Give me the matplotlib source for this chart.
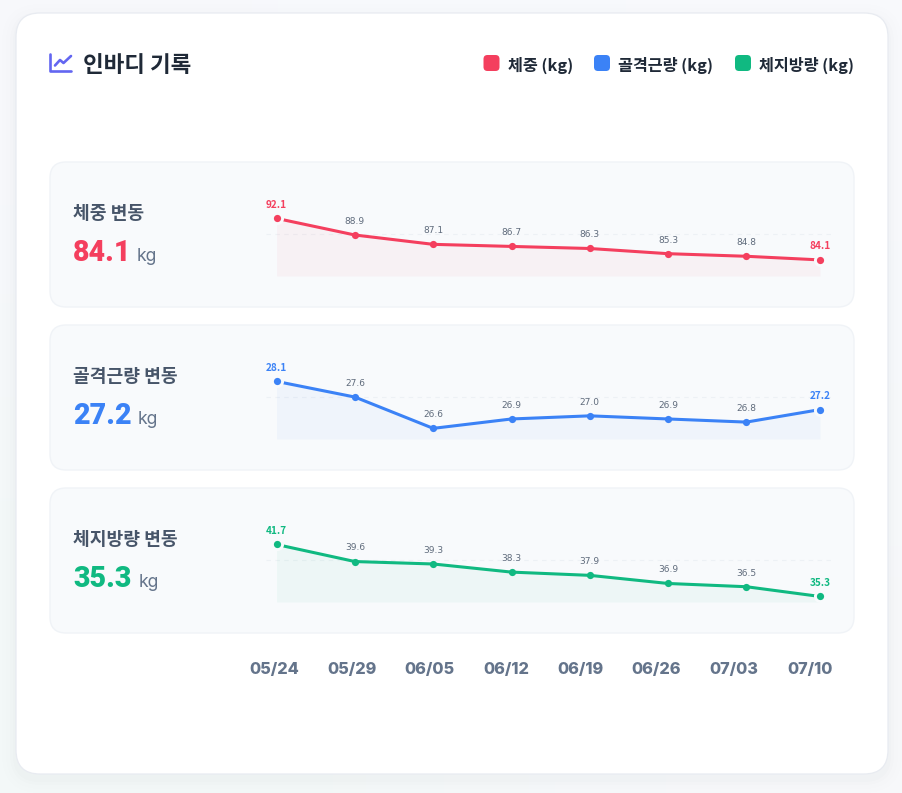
import numpy as np
import matplotlib
matplotlib.use("Agg")
import matplotlib.pyplot as plt
from matplotlib.patches import FancyBboxPatch

# ---- data ----
dates = ["05/24", "05/29", "06/05", "06/12", "06/19", "06/26", "07/03", "07/10"]
weight = [92.1, 88.9, 87.1, 86.7, 86.3, 85.3, 84.8, 84.1]
muscle = [28.1, 27.6, 26.6, 26.9, 27.0, 26.9, 26.8, 27.2]
fat = [41.7, 39.6, 39.3, 38.3, 37.9, 36.9, 36.5, 35.3]

legend_labels = ["체중 (kg)", "골격근량 (kg)", "체지방량 (kg)"]
row_labels = ["체중 변동", "골격근량 변동", "체지방량 변동"]
colors = ["#f43f5e", "#3b82f6", "#10b981"]
title = "인바디 기록"

# value range of each sparkline and its dashed reference level
y_floor = [81.0, 26.26, 34.62]
y_ceil = [100.27, 29.455, 46.93]
ref_level = [89.09, 27.6, 39.79]

# the last point is pulled slightly inward so it stays inside the plot box
slots = [0, 1, 2, 3, 4, 5, 6, 6.94]

KR = ["Noto Sans CJK KR", "DejaVu Sans"]
W, H = 903, 793
fig = plt.figure(figsize=(W / 100, H / 100), dpi=100)

# page-space layer, measured in pixels from the top-left corner
page = fig.add_axes([0, 0, 1, 1])
page.set_xlim(0, W)
page.set_ylim(H, 0)
page.axis("off")

bg = np.array([[[0.969, 0.976, 0.988], [0.973, 0.980, 0.992]],
               [[0.953, 0.973, 0.973], [0.969, 0.976, 0.984]]])
page.imshow(bg, extent=(0, W, H, 0), interpolation="bilinear", aspect="auto", zorder=0)
page.set_xlim(0, W)
page.set_ylim(H, 0)


def rounded(x0, y0, x1, y1, r, face, edge="none", lw=0.0, alpha=None, z=1):
    patch = FancyBboxPatch((x0, y0), x1 - x0, y1 - y0,
                           boxstyle=f"round,pad=0,rounding_size={r}",
                           fc=face, ec=edge, lw=lw, alpha=alpha, zorder=z)
    page.add_patch(patch)
    return patch


# soft card shadow
for grow, a in [(14, 0.004), (10, 0.005), (6, 0.007), (3, 0.010)]:
    rounded(16 - grow, 13 - grow + 5, 888 + grow, 774 + grow + 5, 24 + grow,
            "#475569", alpha=a, z=1)
rounded(16, 13, 888, 774, 24, "#ffffff", "#e8ebf1", 0.9, z=2)

# header icon: axis corner with a small trend line
page.plot([50.5, 50.5, 71.5], [53.5, 71, 71], color="#6366f1", lw=1.9,
          solid_capstyle="round", solid_joinstyle="round", zorder=3)
page.plot([55, 60, 63.5, 71], [65.5, 60, 63, 56], color="#6366f1", lw=1.9,
          solid_capstyle="round", solid_joinstyle="round", zorder=3)
page.text(83, 65.5, title, family=KR, weight="bold", fontsize=16.2, color="#1f2937",
          va="center", ha="left", zorder=3)

# legend
legend_swatch_x = [483.5, 594, 735]
legend_text_x = [508, 618, 759]
for sx, tx, lab, col in zip(legend_swatch_x, legend_text_x, legend_labels, colors):
    rounded(sx, 55, sx + 16, 71, 4, col, z=3)
    page.text(tx, 65.5, lab, family=KR, weight="bold", fontsize=11.7, color="#1f2937",
              va="center", ha="left", zorder=3)

# metric rows
row_top = [162, 325, 488]
row_height = 145
kg_x = [137, 138, 139]
series = [weight, muscle, fat]
plot_left, plot_right = 266, 832
x_first, x_step = 276.6, 78.3
plot_span = 100

for i, (vals, col) in enumerate(zip(series, colors)):
    top = row_top[i]
    rounded(50, top, 854, top + row_height, 16, "#f8fafc", "#f0f3f7", 1.0, z=2)
    page.text(73, top + 51.5, row_labels[i], family=KR, weight="bold", fontsize=13.1,
              color="#475569", va="center", ha="left", zorder=3)
    page.text(73, top + 99, f"{vals[-1]:.1f}", family="Roboto", weight=900, fontsize=20.6,
              color=col, va="baseline", ha="left", zorder=3)
    page.text(kg_x[i], top + 99, "kg", family="Inter", fontsize=12.6, color="#64748b",
              va="baseline", ha="left", zorder=3)

    # sparkline axes: the floor sits at the bottom of the shaded area
    bottom_px = top + 114
    ax = fig.add_axes([plot_left / W, 1 - bottom_px / H,
                       (plot_right - plot_left) / W, plot_span / H])
    ax.patch.set_alpha(0)
    ax.axis("off")
    ax.set_xlim((plot_left - x_first) / x_step, (plot_right - x_first) / x_step)
    ax.set_ylim(y_floor[i], y_ceil[i])

    ax.axhline(ref_level[i], color="#edf1f5", lw=0.8, dashes=(4, 4), zorder=1)
    ax.fill_between(slots, vals, y_floor[i], color=col, alpha=0.047, lw=0, zorder=2)
    ax.plot(slots, vals, color=col, lw=2.2, solid_capstyle="round",
            solid_joinstyle="round", zorder=3)
    ax.plot(slots[1:-1], vals[1:-1], "o", color=col, ms=5.2, mew=0, zorder=4)
    ends_x = [slots[0], slots[-1]]
    ends_y = [vals[0], vals[-1]]
    ax.plot(ends_x, ends_y, "o", color="#f8fafc", ms=9.4, mew=0, zorder=4)
    ax.plot(ends_x, ends_y, "o", color=col, ms=5.2, mew=0, zorder=5)

    for j, (sx, v) in enumerate(zip(slots, vals)):
        is_end = j in (0, len(vals) - 1)
        ax.annotate(f"{v:.1f}", (sx, v), xytext=(0, 9.8), textcoords="offset points",
                    ha="center", va="center", annotation_clip=False, zorder=6,
                    family="Noto Sans CJK KR" if is_end else "DejaVu Sans",
                    weight="bold" if is_end else "normal",
                    fontsize=7.2 if is_end else 6.5,
                    color=col if is_end else "#5f6b7c")

# shared date row
date_centers = [274, 352.5, 429.5, 506, 580.5, 656, 733.5, 810]
for cx, d in zip(date_centers, dates):
    page.text(cx, 669.3, d, family="Inter", weight=800, fontsize=11.7, color="#64748b",
              va="center", ha="center", zorder=3)

fig.savefig("out.png", dpi=100)
